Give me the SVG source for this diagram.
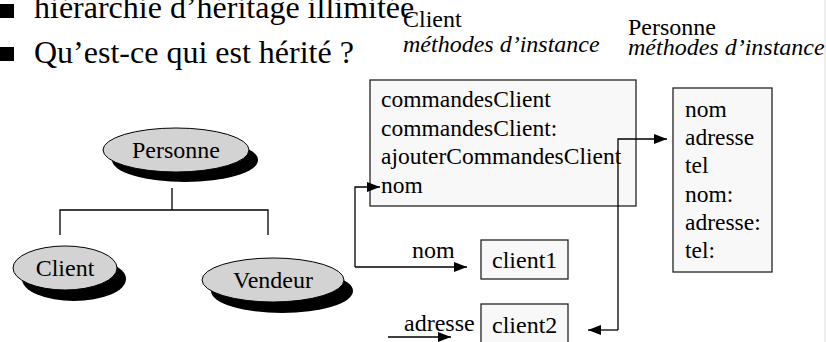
<svg xmlns="http://www.w3.org/2000/svg" width="826" height="342" viewBox="0 0 826 342" font-family="'Liberation Serif', 'Times New Roman', 'DejaVu Serif', serif">
<style>
text{font-family:"Liberation Serif","Times New Roman","DejaVu Serif",serif;fill:#000}
.big{font-size:32px}
.t{font-size:24px}
.m{font-size:23.5px}
.it{font-size:24px;font-style:italic}
.ell{fill:#d3d3d3;stroke:#000;stroke-width:1}
.sh{fill:#000}
.box{fill:#f8f8f8;stroke:#222;stroke-width:1.3}
.ln{fill:none;stroke:#000;stroke-width:1.3}
.c{text-anchor:middle}
</style>
<defs>
<marker id="ah" markerUnits="userSpaceOnUse" markerWidth="14" markerHeight="10" refX="13" refY="5" orient="auto">
<path d="M0,0 L13,5 L0,10 Z" fill="#000"/>
</marker>
</defs>
<rect width="826" height="342" fill="#fff"/>
<line x1="825" y1="0" x2="825" y2="342" stroke="#ddd" stroke-width="1"/>
<g id="bullets">
<rect x="0" y="4" width="14" height="14" fill="#000"/>
<text class="big" x="34" y="18">hiérarchie d’héritage illimitée</text>
<rect x="0" y="47" width="14" height="14" fill="#000"/>
<text class="big" x="34" y="63">Qu’est-ce qui est hérité ?</text>
</g>
<g id="headers">
<text class="t" x="403" y="27">Client</text>
<text class="it" x="403" y="52">méthodes d’instance</text>
<text class="t" x="628" y="35">Personne</text>
<text class="it" x="628" y="55">méthodes d’instance</text>
</g>
<g id="tree">
<path class="ln" d="M172,188 V210 M60,235 V210 H268 V235" stroke-width="1"/>
</g>
<g id="node-personne">
<ellipse class="sh" cx="185" cy="160" rx="73" ry="22"/>
<ellipse class="ell" cx="176" cy="150" rx="73" ry="22"/>
<text class="t c" x="176" y="158">Personne</text>
</g>
<g id="node-client">
<ellipse class="sh" cx="74" cy="279" rx="52" ry="22"/>
<ellipse class="ell" cx="65" cy="268" rx="52" ry="22"/>
<text class="t c" x="65" y="276">Client</text>
</g>
<g id="node-vendeur">
<ellipse class="sh" cx="282" cy="291" rx="71" ry="22"/>
<ellipse class="ell" cx="273" cy="280" rx="71" ry="22"/>
<text class="t c" x="273" y="288">Vendeur</text>
</g>
<g id="node-client-methods">
<rect class="box" x="370" y="80" width="266" height="126"/>
<text class="m" x="381" y="107">commandesClient</text>
<text class="m" x="381" y="136">commandesClient:</text>
<text class="m" x="381" y="164">ajouterCommandesClient</text>
<text class="m" x="381" y="193">nom</text>
</g>
<g id="node-personne-methods">
<rect class="box" x="673" y="88" width="99" height="184"/>
<text class="m" x="685" y="117">nom</text>
<text class="m" x="685" y="145">adresse</text>
<text class="m" x="685" y="173">tel</text>
<text class="m" x="685" y="202">nom:</text>
<text class="m" x="685" y="230">adresse:</text>
<text class="m" x="685" y="258">tel:</text>
</g>
<g id="node-client1">
<rect class="box" x="481" y="240" width="87" height="39"/>
<text class="t" x="492" y="268">client1</text>
</g>
<g id="node-client2">
<rect class="box" x="481" y="304" width="87" height="45"/>
<text class="t" x="492" y="333">client2</text>
</g>
<g id="connectors">
<path class="ln" d="M355,267 V187 H380" marker-end="url(#ah)"/>
<path class="ln" d="M355,267 H467" marker-end="url(#ah)"/>
<text class="t" x="412" y="258">nom</text>
<path class="ln" d="M618,330 V139 H667" marker-end="url(#ah)"/>
<path class="ln" d="M618,330 H588" marker-end="url(#ah)"/>
<path class="ln" d="M388,337 H451" marker-end="url(#ah)"/>
<text class="t" x="404" y="331">adresse</text>
</g>
</svg>
